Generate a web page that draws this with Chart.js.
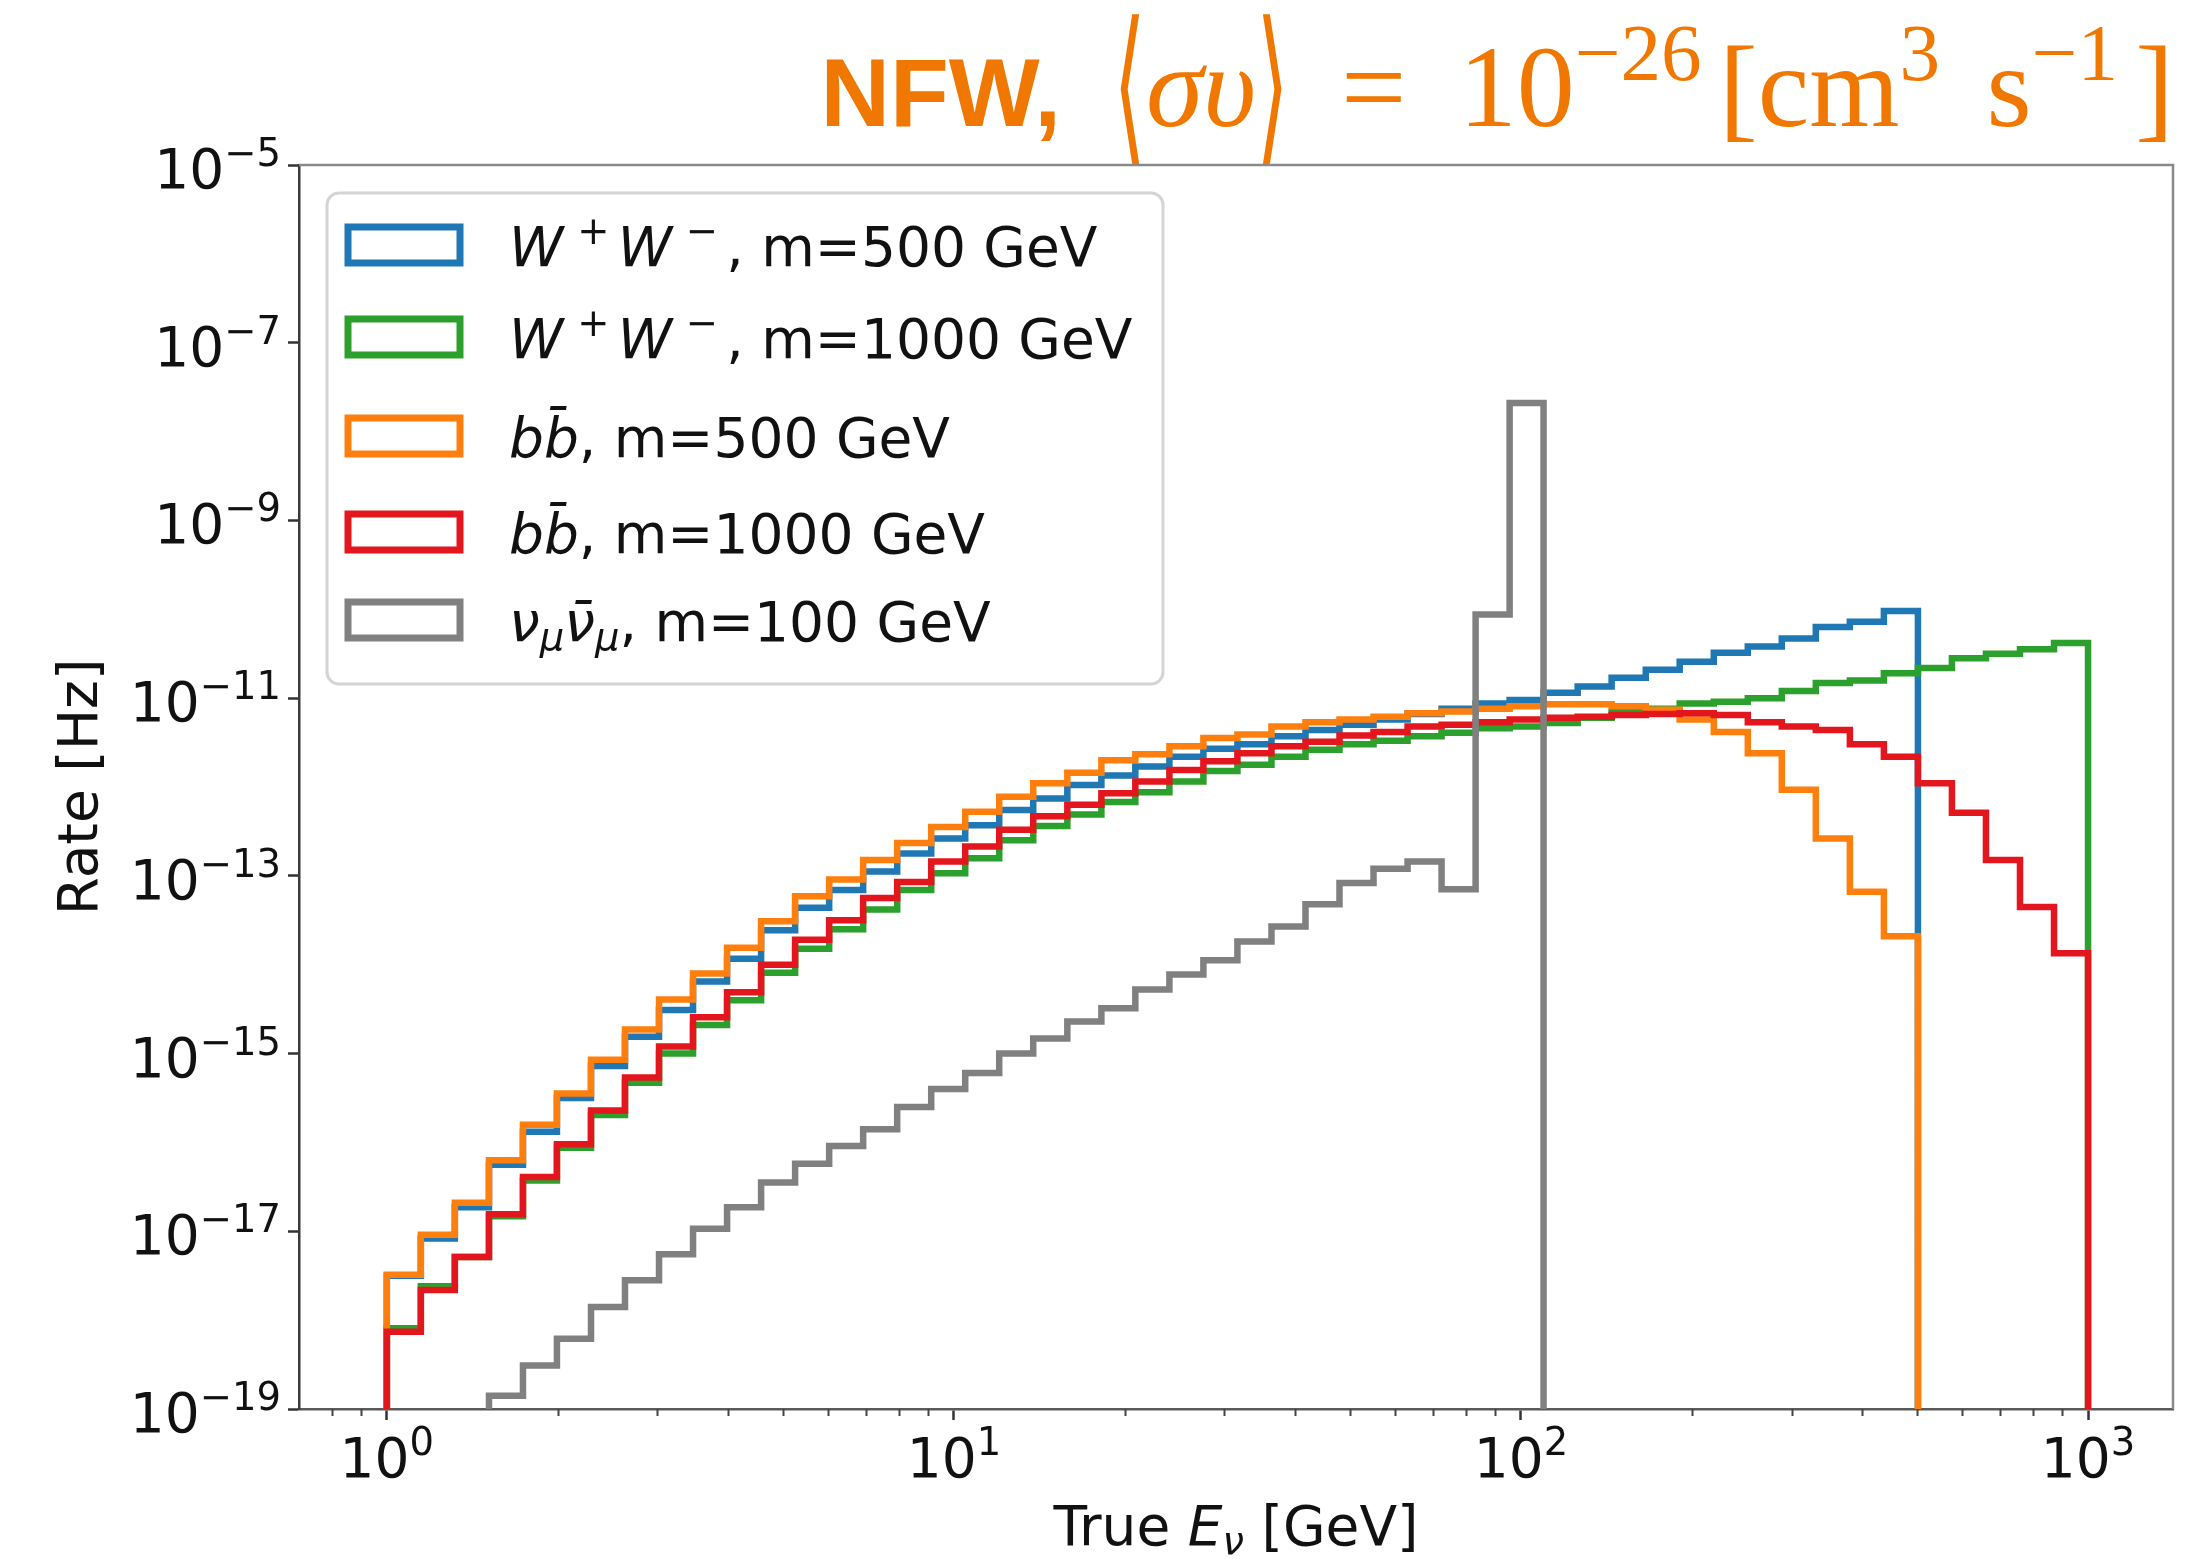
<!DOCTYPE html>
<html>
<head>
<meta charset="utf-8">
<title>NFW rate</title>
<script src="https://cdn.jsdelivr.net/npm/chart.js@4.4.0/dist/chart.umd.min.js"></script>
<style>
  html, body { margin: 0; padding: 0; background: #fff; }
  canvas { display: block; }
</style>
</head>
<body>
<canvas id="rateChart" width="2198" height="1559"></canvas>
<script>
// histogram bin edges, true neutrino energy [GeV]
const binEdges = [
  1, 1.148, 1.318, 1.514, 1.738, 1.995, 2.291, 2.630, 3.020, 3.467,
  3.981, 4.571, 5.248, 6.026, 6.918, 7.943, 9.120, 10.47, 12.02, 13.80,
  15.85, 18.20, 20.89, 23.99, 27.54, 31.62, 36.31, 41.69, 47.86, 54.95,
  63.10, 72.44, 83.18, 95.50, 109.6, 125.9, 144.5, 166.0, 190.5, 218.8,
  251.2, 288.4, 331.1, 380.2, 436.5, 501.2, 575.4, 660.7, 758.6, 871.0,
  1000
];

// rate per bin [Hz]
const wwM500 = [
  3.16e-18, 8.32e-18, 1.86e-17, 5.62e-17, 1.32e-16, 3.16e-16, 7.24e-16, 1.55e-15, 3.09e-15, 6.46e-15,
  1.17e-14, 2.45e-14, 4.37e-14, 6.92e-14, 1.12e-13, 1.78e-13, 2.63e-13, 3.72e-13, 5.50e-13, 7.41e-13,
  1.05e-12, 1.35e-12, 1.70e-12, 2.19e-12, 2.69e-12, 3.02e-12, 3.72e-12, 4.37e-12, 5.01e-12, 5.75e-12,
  6.61e-12, 7.59e-12, 8.71e-12, 9.55e-12, 1.15e-11, 1.35e-11, 1.70e-11, 2.09e-11, 2.57e-11, 3.24e-11,
  3.80e-11, 4.68e-11, 6.31e-11, 7.24e-11, 9.55e-11, 0, 0, 0, 0, 0
];
const wwM1000 = [
  8.13e-19, 2.40e-18, 5.13e-18, 1.48e-17, 3.72e-17, 8.71e-17, 2.04e-16, 4.68e-16, 1.00e-15, 2.09e-15,
  3.98e-15, 8.13e-15, 1.51e-14, 2.51e-14, 4.17e-14, 6.92e-14, 1.07e-13, 1.58e-13, 2.51e-13, 3.63e-13,
  4.90e-13, 6.76e-13, 8.71e-13, 1.15e-12, 1.51e-12, 1.78e-12, 2.19e-12, 2.63e-12, 3.02e-12, 3.31e-12,
  3.72e-12, 4.07e-12, 4.57e-12, 4.79e-12, 5.25e-12, 6.03e-12, 6.92e-12, 7.59e-12, 8.71e-12, 9.12e-12,
  1.00e-11, 1.20e-11, 1.48e-11, 1.58e-11, 1.91e-11, 2.19e-11, 2.82e-11, 3.16e-11, 3.55e-11, 4.17e-11
];
const bbM500 = [
  3.24e-18, 9.12e-18, 2.09e-17, 6.31e-17, 1.58e-16, 3.55e-16, 8.51e-16, 1.86e-15, 4.07e-15, 7.94e-15,
  1.55e-14, 3.09e-14, 5.89e-14, 9.12e-14, 1.51e-13, 2.34e-13, 3.55e-13, 5.25e-13, 7.76e-13, 1.10e-12,
  1.45e-12, 2.00e-12, 2.34e-12, 2.88e-12, 3.55e-12, 3.89e-12, 4.79e-12, 5.37e-12, 5.75e-12, 6.17e-12,
  6.76e-12, 7.08e-12, 7.59e-12, 8.13e-12, 8.51e-12, 8.51e-12, 8.13e-12, 7.41e-12, 5.75e-12, 4.17e-12,
  2.40e-12, 9.33e-13, 2.63e-13, 6.61e-14, 2.09e-14, 0, 0, 0, 0, 0
];
const bbM1000 = [
  7.41e-19, 2.19e-18, 5.13e-18, 1.55e-17, 4.07e-17, 9.55e-17, 2.29e-16, 5.37e-16, 1.20e-15, 2.57e-15,
  4.90e-15, 1.00e-14, 1.91e-14, 3.16e-14, 5.62e-14, 8.51e-14, 1.45e-13, 2.14e-13, 3.31e-13, 4.68e-13,
  6.31e-13, 8.51e-13, 1.15e-12, 1.55e-12, 1.95e-12, 2.40e-12, 2.88e-12, 3.24e-12, 3.80e-12, 4.17e-12,
  4.79e-12, 5.01e-12, 5.37e-12, 5.75e-12, 6.03e-12, 6.17e-12, 6.46e-12, 6.61e-12, 6.76e-12, 6.46e-12,
  5.37e-12, 4.79e-12, 4.37e-12, 3.02e-12, 2.19e-12, 1.10e-12, 5.13e-13, 1.51e-13, 4.47e-14, 1.35e-14
];
const nunuM100 = [
  0, 0, 0, 1.41e-19, 3.09e-19, 6.17e-19, 1.41e-18, 2.82e-18, 5.50e-18, 1.07e-17,
  1.86e-17, 3.55e-17, 5.75e-17, 9.12e-17, 1.41e-16, 2.51e-16, 3.98e-16, 6.03e-16, 1.00e-15, 1.48e-15,
  2.29e-15, 3.24e-15, 5.25e-15, 7.76e-15, 1.12e-14, 1.82e-14, 2.69e-14, 4.79e-14, 8.32e-14, 1.20e-13,
  1.45e-13, 7.08e-14, 8.71e-11, 2.09e-8, 0, 0, 0, 0, 0, 0,
  0, 0, 0, 0, 0, 0, 0, 0, 0, 0
];

// label markup, runs split by |
//   *italic  ^superscript  _subscript  !bold sans  #tall delimiter  %gap (em)
const seriesLabels = [
  '*W|^+|*W|^−|, m=500 GeV',
  '*W|^+|*W|^−|, m=1000 GeV',
  '*bb̄|, m=500 GeV',
  '*bb̄|, m=1000 GeV',
  '*ν|_μ|*ν̄|_μ|, m=100 GeV'
];
const seriesValues = [wwM500, wwM1000, bbM500, bbM1000, nunuM100];
const seriesColors = ['#1f77b4', '#2ca02c', '#ff7f0e', '#e3161e', '#808080'];

const xRange = [0.708, 1412];
const xMajorTicks = [1, 10, 100, 1000];
const xTickLabels = ['10|^0', '10|^1', '10|^2', '10|^3'];
const xMinorTicks = [0.8, 0.9, 2, 3, 4, 5, 6, 7, 8, 9, 20, 30, 40, 50, 60, 70, 80, 90,
  200, 300, 400, 500, 600, 700, 800, 900];
const yRange = [1e-19, 1e-5];
const yTicks = [1e-19, 1e-17, 1e-15, 1e-13, 1e-11, 1e-9, 1e-7, 1e-5];
const yTickLabels = ['10|^−19', '10|^−17', '10|^−15', '10|^−13', '10|^−11', '10|^−9', '10|^−7', '10|^−5'];

const titleText = '!NFW,|%0.45|#⟨|*συ|#⟩|%0.2| = |%0.2|10|^−26|[cm|^3| s|^−1|]';
const xTitle = 'True |*E|_ν| [GeV]';
const yTitle = 'Rate [Hz]';

const SANS = '"DejaVu Sans", sans-serif';
const SERIF = '"Liberation Serif", "DejaVu Serif", serif';
const BOLD_SANS = '"Liberation Sans", Arial, sans-serif';
const FONT_SIZE = 55;
const INK = '#111';
const TITLE_COLOR = '#f07800';

// narrow, tall angle brackets
const DELIM_SX = 0.72;
const DELIM_SY = 1.45;

// empty bins sit far below the axis so the step outline drops out of view
const FLOOR = 1e-23;

function histPoints(values) {
  const pts = [{ x: binEdges[0], y: FLOOR }];
  values.forEach((v, i) => pts.push({ x: binEdges[i], y: v > 0 ? v : FLOOR }));
  pts.push({ x: binEdges[binEdges.length - 1], y: FLOOR });
  return pts;
}

function layoutRuns(ctx, markup, size, family) {
  const runs = [];
  let x = 0;
  markup.split('|').forEach(p => {
    if (p[0] === '%') { x += parseFloat(p.slice(1)) * size; return; }
    let kind = 'text', text = p, italic = false, bold = false, tall = false, fam = family, fs = size;
    if (p[0] === '*') { italic = true; text = p.slice(1); }
    else if (p[0] === '^') { kind = 'sup'; text = p.slice(1); fs = size * 0.7; }
    else if (p[0] === '_') { kind = 'sub'; italic = true; text = p.slice(1); fs = size * 0.7; }
    else if (p[0] === '!') { bold = true; fam = BOLD_SANS; text = p.slice(1); fs = size * 0.83; }
    else if (p[0] === '#') { tall = true; text = p.slice(1); }
    const font = (italic ? 'italic ' : '') + (bold ? 'bold ' : '') + fs + 'px ' + fam;
    const prev = runs[runs.length - 1];
    if (kind === 'sup' && prev && prev.italic) x += size * 0.25;
    if (prev && prev.kind === 'sup') x += size * 0.15;
    ctx.font = font;
    let w = ctx.measureText(text).width;
    if (tall) w *= DELIM_SX;
    const dy = kind === 'sup' ? -size * 0.4 : kind === 'sub' ? size * 0.17 : 0;
    runs.push({ text, font, x, dy, kind, italic, tall, size });
    x += w;
  });
  return { runs, width: x };
}

function drawRuns(ctx, markup, x, y, size, family, align, color) {
  const { runs, width } = layoutRuns(ctx, markup, size, family);
  const x0 = align === 'right' ? x - width : align === 'center' ? x - width / 2 : x;
  ctx.save();
  ctx.fillStyle = color;
  ctx.textAlign = 'left';
  ctx.textBaseline = 'alphabetic';
  runs.forEach(r => {
    ctx.font = r.font;
    if (r.tall) {
      // stretched delimiter, centred on the math axis
      const c = r.size * 0.3;
      ctx.save();
      ctx.translate(x0 + r.x, y - c);
      ctx.scale(DELIM_SX, DELIM_SY);
      ctx.fillText(r.text, 0, c);
      ctx.restore();
    } else {
      ctx.fillText(r.text, x0 + r.x, y + r.dy);
    }
  });
  ctx.restore();
}

// top and right spines + minor x ticks
const frame = {
  id: 'frame',
  afterDraw(chart) {
    const { ctx, chartArea: a, scales: { x } } = chart;
    ctx.save();
    ctx.lineWidth = 2.5;
    ctx.strokeStyle = '#8a8a8a';
    ctx.beginPath();
    ctx.moveTo(a.left, a.top);
    ctx.lineTo(a.right, a.top);
    ctx.lineTo(a.right, a.bottom);
    ctx.stroke();
    ctx.strokeStyle = '#444';
    ctx.lineWidth = 2;
    xMinorTicks.forEach(v => {
      const px = Math.round(x.getPixelForValue(v)) + 0.5;
      ctx.beginPath();
      ctx.moveTo(px, a.bottom);
      ctx.lineTo(px, a.bottom + 7);
      ctx.stroke();
    });
    ctx.restore();
  }
};

// tick labels, axis titles and the headline
const labels = {
  id: 'labels',
  afterDraw(chart) {
    const { ctx, chartArea: a, scales: { x, y } } = chart;
    yTicks.forEach((v, i) => {
      drawRuns(ctx, yTickLabels[i], a.left - 18, y.getPixelForValue(v) + 23, FONT_SIZE, SANS, 'right', INK);
    });
    xMajorTicks.forEach((v, i) => {
      drawRuns(ctx, xTickLabels[i], x.getPixelForValue(v), a.bottom + 68, FONT_SIZE, SANS, 'center', INK);
    });
    drawRuns(ctx, xTitle, (a.left + a.right) / 2, a.bottom + 136, FONT_SIZE, SANS, 'center', INK);

    ctx.save();
    ctx.translate(a.left - 202, (a.top + a.bottom) / 2);
    ctx.rotate(-Math.PI / 2);
    drawRuns(ctx, yTitle, 0, 0, FONT_SIZE, SANS, 'center', INK);
    ctx.restore();

    drawRuns(ctx, titleText, a.right + 1, a.top - 39, 116, SERIF, 'right', TITLE_COLOR);
  }
};

// framed legend in the upper left corner of the axes
const boxLegend = {
  id: 'boxLegend',
  afterDraw(chart) {
    const { ctx, chartArea: a } = chart;
    const bx = a.left + 28, by = a.top + 28, bw = 836, bh = 491;
    const rows = [52, 144, 243, 339, 427];
    ctx.save();
    ctx.beginPath();
    ctx.roundRect(bx, by, bw, bh, 12);
    ctx.fillStyle = 'rgba(255,255,255,0.8)';
    ctx.fill();
    ctx.lineWidth = 3;
    ctx.strokeStyle = '#d4d4d4';
    ctx.stroke();
    chart.data.datasets.forEach((ds, i) => {
      const cy = by + rows[i];
      ctx.lineWidth = 7;
      ctx.lineJoin = 'miter';
      ctx.strokeStyle = ds.borderColor;
      ctx.strokeRect(bx + 21, cy - 18, 112, 36);
      drawRuns(ctx, seriesLabels[i], bx + 182, cy + 21, FONT_SIZE, SANS, 'left', INK);
    });
    ctx.restore();
  }
};

const datasets = seriesValues.map((vals, i) => ({
  label: seriesLabels[i],
  data: histPoints(vals),
  borderColor: seriesColors[i],
  borderWidth: 6.5,
  stepped: 'before',
  pointRadius: 0,
  fill: false,
  clip: 0,
  order: seriesValues.length - i
}));

const tickGrid = { drawOnChartArea: false, drawTicks: true, tickLength: 11, tickWidth: 2.5, tickColor: '#333' };

new Chart(document.getElementById('rateChart'), {
  type: 'line',
  data: { datasets },
  options: {
    responsive: false,
    animation: false,
    devicePixelRatio: 1,
    layout: { padding: { left: 0, top: 165, right: 25, bottom: 0 } },
    plugins: { legend: { display: false }, tooltip: { enabled: false } },
    scales: {
      x: {
        type: 'logarithmic',
        min: xRange[0],
        max: xRange[1],
        afterBuildTicks: s => { s.ticks = xMajorTicks.map(v => ({ value: v })); },
        afterFit: s => { s.height = 150; },
        ticks: { display: false },
        grid: tickGrid,
        border: { display: true, color: '#5a5a5a', width: 2.5 }
      },
      y: {
        type: 'logarithmic',
        min: yRange[0],
        max: yRange[1],
        afterBuildTicks: s => { s.ticks = yTicks.map(v => ({ value: v })); },
        afterFit: s => { s.width = 299; },
        ticks: { display: false },
        grid: tickGrid,
        border: { display: true, color: '#3a3a3a', width: 2.5 }
      }
    }
  },
  plugins: [frame, labels, boxLegend]
});
</script>
</body>
</html>
